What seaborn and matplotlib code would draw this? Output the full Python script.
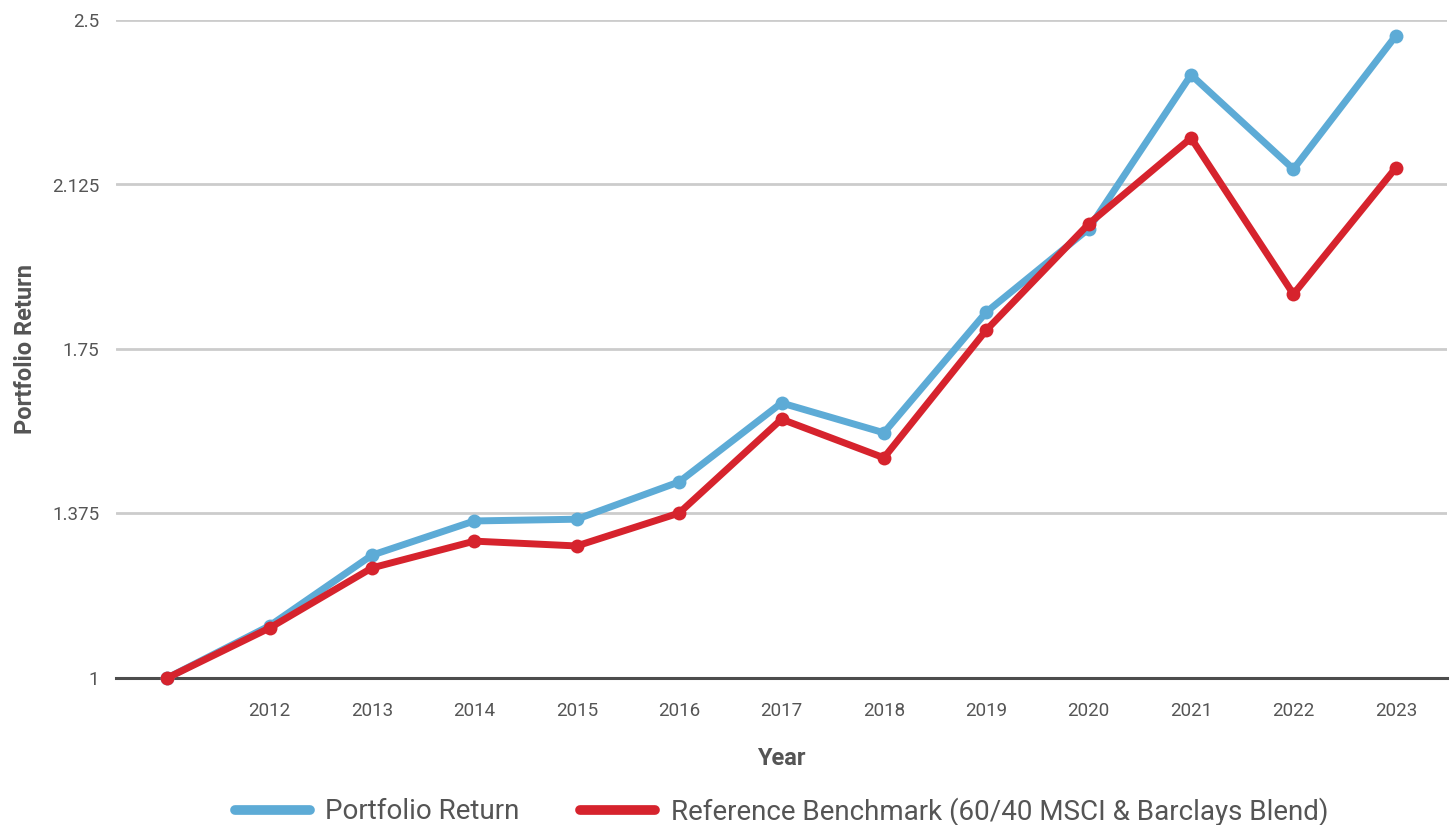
import matplotlib
matplotlib.use("Agg")
import matplotlib.pyplot as plt
import seaborn as sns
import pandas as pd

years = ["", "2012", "2013", "2014", "2015", "2016", "2017", "2018", "2019", "2020", "2021", "2022", "2023"]
portfolio = [1.0, 1.119, 1.280, 1.358, 1.362, 1.447, 1.627, 1.559, 1.834, 2.024, 2.375, 2.160, 2.464]
benchmark = [1.0, 1.114, 1.251, 1.312, 1.301, 1.376, 1.590, 1.502, 1.793, 2.035, 2.231, 1.875, 2.163]
series_names = ["Portfolio Return", "Reference Benchmark (60/40 MSCI & Barclays Blend)"]
y_ticks = [1, 1.375, 1.75, 2.125, 2.5]
y_tick_labels = ["1", "1.375", "1.75", "2.125", "2.5"]

sns.set_theme(style="white")
plt.rcParams["font.family"] = ["Roboto", "DejaVu Sans"]

colors = ["#5DABD6", "#D6232D"]
text_color = "#555555"

df = pd.DataFrame({
    "pos": list(range(len(years))) * 2,
    "value": portfolio + benchmark,
    "series": [series_names[0]] * len(years) + [series_names[1]] * len(years),
})

fig = plt.figure(figsize=(14.52, 8.25), dpi=100)
ax = fig.add_axes([116 / 1452, 1 - 678 / 825, (1447 - 116) / 1452, (678 - 20) / 825])

for name, col in zip(series_names, colors):
    sub = df[df["series"] == name]
    sns.lineplot(data=sub, x="pos", y="value", ax=ax, color=col, linewidth=5,
                 marker="o", markersize=10, markeredgewidth=0, label=name,
                 clip_on=False, zorder=3)

ax.set_xlim(-0.5, len(years) - 0.5)
ax.set_ylim(1, 2.5)
ax.set_xticks(range(len(years)))
ax.set_xticklabels(years)
ax.set_yticks(y_ticks)
ax.set_yticklabels(y_tick_labels)
ax.tick_params(axis="both", length=0, colors=text_color, labelsize=13.5)
ax.tick_params(axis="x", pad=17)
ax.tick_params(axis="y", pad=12)

ax.grid(axis="y", color="#CCCCCC", linewidth=2)
ax.grid(axis="x", visible=False)
for s in ["top", "right", "left"]:
    ax.spines[s].set_visible(False)
ax.spines["bottom"].set_color("#4D4D4D")
ax.spines["bottom"].set_linewidth(2.2)
ax.spines["bottom"].set_zorder(2)

ax.set_xlabel("Year", fontsize=17, fontweight="bold", color=text_color, labelpad=20)
ax.set_ylabel("Portfolio Return", fontsize=17, fontweight="bold", color=text_color, labelpad=11)

leg = ax.legend(loc="upper center", bbox_to_anchor=(0.5, -0.143), ncol=2, frameon=False,
                fontsize=20, handlelength=2.7, columnspacing=2.2, handletextpad=0.55)
for line in leg.get_lines():
    line.set_linewidth(7)
    line.set_marker("")
    line.set_solid_capstyle("round")
for t in leg.get_texts():
    t.set_color(text_color)

fig.savefig("out.png", dpi=100)
